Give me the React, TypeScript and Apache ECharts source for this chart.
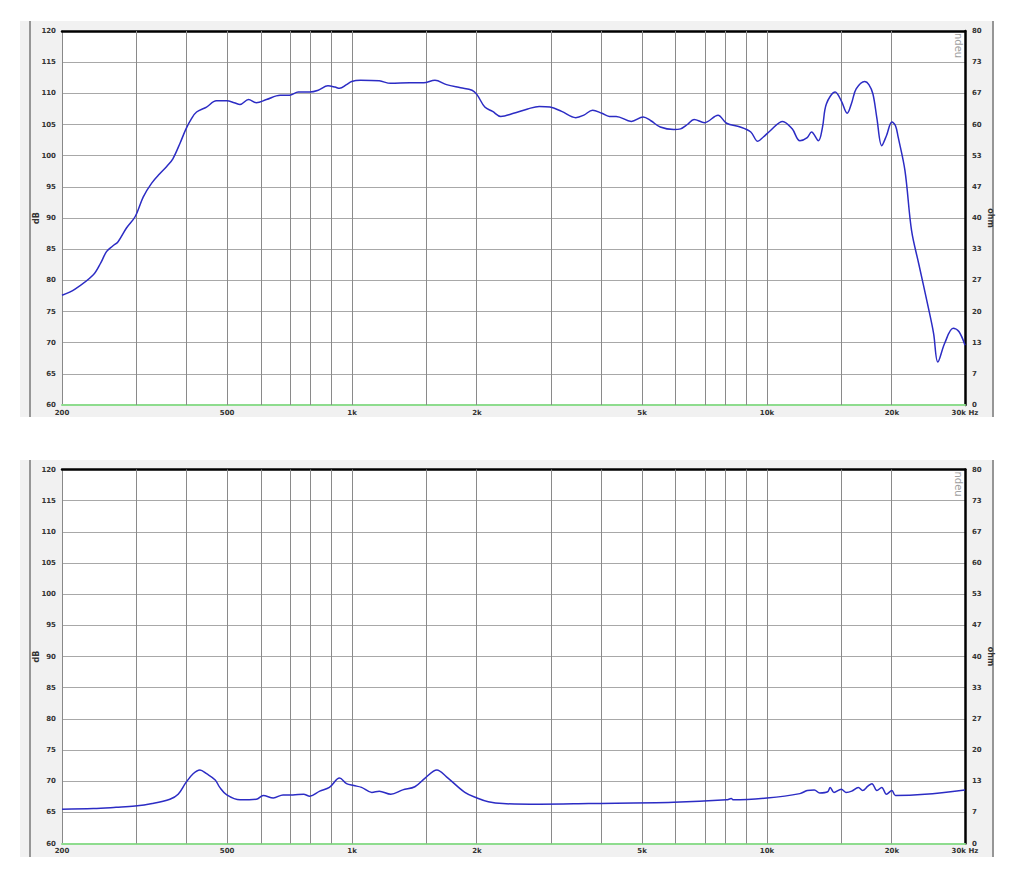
import React, { useEffect, useRef } from "react";
import * as echarts from "echarts";

// Top chart: frequency response (Hz, dB)
const freqTop = [200, 215, 238, 248, 256, 265, 273, 286, 300, 314, 329, 344, 358, 370, 385, 398, 410, 422, 446, 471, 499, 520, 537, 563, 588, 622, 671, 707, 742, 791, 829, 875, 910, 933, 970, 998, 1047, 1163, 1239, 1378, 1488, 1584, 1689, 1826, 1946, 2000, 2089, 2181, 2282, 2450, 2650, 2825, 3000, 3200, 3460, 3620, 3800, 4000, 4170, 4330, 4710, 5030, 5250, 5530, 5960, 6190, 6430, 6670, 7070, 7620, 7990, 8620, 9140, 9500, 9800, 10180, 10910, 11500, 12000, 12500, 12800, 13300, 13600, 13900, 14600, 15100, 15600, 16000, 16400, 17200, 17600, 18000, 18400, 18900, 19400, 20000, 20400, 20700, 21500, 22300, 23200, 24500, 25200, 25800, 26800, 28100, 29000, 30000];
const dbTop = [77.6, 78.6, 80.9, 82.8, 84.6, 85.5, 86.2, 88.4, 90.2, 93.4, 95.6, 97.1, 98.3, 99.5, 102.0, 104.3, 105.9, 107.0, 107.8, 108.8, 108.8, 108.5, 108.2, 109.0, 108.5, 109.0, 109.7, 109.7, 110.2, 110.2, 110.5, 111.2, 111.0, 110.8, 111.4, 111.9, 112.1, 112.0, 111.6, 111.7, 111.7, 112.1, 111.4, 110.9, 110.5, 109.8, 107.8, 107.1, 106.3, 106.8, 107.5, 107.9, 107.8, 107.1, 106.1, 106.5, 107.3, 106.8, 106.3, 106.3, 105.5, 106.2, 105.6, 104.6, 104.2, 104.3, 105.0, 105.8, 105.3, 106.5, 105.2, 104.6, 103.8, 102.3, 103.0, 104.0, 105.5, 104.3, 102.4, 102.9, 103.8, 102.4, 104.5, 108.3, 110.2, 108.8, 106.8, 108.5, 110.7, 111.9, 111.4, 109.9, 106.0, 101.6, 103.2, 105.4, 104.8, 103.0, 97.6, 88.0, 82.7, 75.5, 71.5, 66.9, 69.9, 72.3, 71.8, 69.6];

// Bottom chart
const freqBottom = [200, 238, 270, 300, 330, 364, 381, 398, 414, 430, 446, 468, 480, 499, 537, 588, 611, 646, 682, 720, 764, 791, 836, 882, 933, 970, 1010, 1054, 1116, 1163, 1240, 1325, 1417, 1500, 1601, 1689, 1870, 2000, 2130, 2310, 2825, 3720, 5960, 7990, 8200, 8300, 10000, 12000, 12500, 13000, 13400, 14000, 14200, 14500, 15100, 15500, 16000, 16600, 17000, 17500, 17900, 18400, 18900, 19400, 20000, 20400, 24000, 30000];
const dbBottom = [65.5, 65.6, 65.8, 66.0, 66.4, 67.1, 67.9, 69.8, 71.2, 71.8, 71.2, 70.2, 69.0, 67.8, 67.0, 67.1, 67.7, 67.3, 67.8, 67.8, 67.9, 67.6, 68.4, 69.0, 70.5, 69.6, 69.3, 69.0, 68.2, 68.4, 67.9, 68.6, 69.1, 70.5, 71.8, 70.7, 68.2, 67.3, 66.7, 66.4, 66.3, 66.4, 66.6, 67.0, 67.2, 67.0, 67.3, 68.0, 68.5, 68.6, 68.1, 68.3, 69.0, 68.2, 68.7, 68.2, 68.4, 69.0, 68.5, 69.2, 69.6, 68.5, 69.0, 67.9, 68.5, 67.7, 67.9, 68.6];

const gridFreqs = [300, 400, 500, 600, 700, 800, 900, 1000, 1500, 2000, 3000, 4000, 5000, 6000, 7000, 8000, 9000, 10000, 15000, 20000];
const xLabelFreqs = [200, 500, 1000, 2000, 5000, 10000, 20000, 30000];
const xLabelTexts = ["200", "500", "1k", "2k", "5k", "10k", "20k", "30k Hz"];
const ohmLabels = ["0", "7", "13", "20", "27", "33", "40", "47", "53", "60", "67", "73", "80"];

const FMIN = 200;
const FMAX = 30000;

const labelFont = {
  fontSize: 7,
  fontWeight: "bold" as const,
  color: "#333",
  fontFamily: "DejaVu Sans",
};

export default function App() {
  const ref = useRef<HTMLDivElement>(null);

  useEffect(() => {
    document.body.style.margin = "0";
    if (!ref.current) return;
    const chart = echarts.init(ref.current, undefined, { renderer: "svg" });

    const grids = [
      { left: 62, top: 31, width: 903, height: 374 },
      { left: 62, top: 469.5, width: 903, height: 374 },
    ];

    const xAxes: any[] = [];
    const yAxes: any[] = [];
    const series: any[] = [];

    const datasets = [
      { f: freqTop, d: dbTop },
      { f: freqBottom, d: dbBottom },
    ];

    grids.forEach((_, gi) => {
      xAxes.push({
        gridIndex: gi,
        type: "value",
        position: "bottom",
        min: Math.log10(FMIN),
        max: Math.log10(FMAX),
        axisLine: { show: true, lineStyle: { color: "#8edc8e", width: 2 } },
        axisTick: { show: false },
        splitLine: { show: false },
        axisLabel: {
          ...labelFont,
          margin: 4,
          customValues: xLabelFreqs.map((f) => Math.log10(f)),
          formatter: (v: number) => {
            const f = Math.round(Math.pow(10, v));
            const i = xLabelFreqs.indexOf(f);
            return i >= 0 ? xLabelTexts[i] : "";
          },
        },
      });
      xAxes.push({
        gridIndex: gi,
        type: "value",
        position: "top",
        min: Math.log10(FMIN),
        max: Math.log10(FMAX),
        axisLine: { show: true, lineStyle: { color: "#000", width: 2.5 } },
        axisTick: { show: false },
        axisLabel: { show: false },
        splitLine: { show: false },
      });
      yAxes.push({
        gridIndex: gi,
        type: "value",
        position: "left",
        min: 60,
        max: 120,
        interval: 5,
        name: "dB",
        nameLocation: "middle",
        nameGap: 22,
        nameMoveOverlap: false,
        nameRotate: 90,
        nameTextStyle: { ...labelFont, fontSize: 8 },
        axisLine: { show: true, lineStyle: { color: "#888", width: 1 } },
        axisTick: { show: false },
        axisLabel: { ...labelFont, margin: 6 },
        splitLine: { show: true, lineStyle: { color: "#a8a8a8", width: 1 } },
      });
      yAxes.push({
        gridIndex: gi,
        type: "value",
        position: "right",
        min: 0,
        max: 80,
        interval: 80 / 12,
        name: "ohm",
        nameLocation: "middle",
        nameGap: 21,
        nameMoveOverlap: false,
        nameRotate: -90,
        nameTextStyle: { ...labelFont, fontSize: 8 },
        axisLine: { show: true, lineStyle: { color: "#000", width: 2.5 } },
        axisTick: { show: false },
        axisLabel: {
          ...labelFont,
          margin: 7,
          formatter: (v: number) => ohmLabels[Math.round(v / (80 / 12))] ?? "",
        },
        splitLine: { show: false },
      });

      series.push({
        type: "line",
        xAxisIndex: gi * 2,
        yAxisIndex: gi * 2,
        data: [],
        z: 1,
        silent: true,
        markLine: {
          silent: true,
          symbol: ["none", "none"],
          label: { show: false },
          animation: false,
          lineStyle: { color: "#8a8a8a", width: 1, type: "solid" },
          data: gridFreqs.map((f) => ({ xAxis: Math.log10(f) })),
        },
      });
      const ds = datasets[gi];
      series.push({
        type: "line",
        xAxisIndex: gi * 2,
        yAxisIndex: gi * 2,
        data: ds.f.map((f, i) => [Math.log10(f), ds.d[i]]),
        showSymbol: false,
        smooth: 0.35,
        z: 5,
        lineStyle: { color: "#2c2cc4", width: 1.5 },
      });
    });

    const graphics: any[] = [];
    const panels = [
      { y: 21, h: 396 },
      { y: 460, h: 397 },
    ];
    panels.forEach((p, i) => {
      graphics.push({
        type: "rect",
        z: -10,
        shape: { x: 20, y: p.y, width: 974, height: p.h },
        style: { fill: "#f1f1f1" },
      });
      graphics.push({
        type: "line",
        z: -9,
        shape: { x1: 30, y1: p.y, x2: 30, y2: p.y + p.h },
        style: { stroke: "#777", lineWidth: 1.5 },
      });
      graphics.push({
        type: "line",
        z: -9,
        shape: { x1: 993, y1: p.y, x2: 993, y2: p.y + p.h },
        style: { stroke: "#777", lineWidth: 1.5 },
      });
      graphics.push({
        type: "text",
        z: 20,
        x: 963,
        y: grids[i].top + 2,
        rotation: -Math.PI / 2,
        style: {
          text: "ndeu",
          fill: "#a0a0a0",
          fontSize: 10,
          fontFamily: "DejaVu Sans",
          textAlign: "left",
          textVerticalAlign: "top",
        },
      });
    });

    chart.setOption({
      animation: false,
      backgroundColor: "#fff",
      grid: grids.map((g) => ({ ...g, show: true, backgroundColor: "#fff", borderWidth: 0 })),
      xAxis: xAxes,
      yAxis: yAxes,
      series,
      graphic: graphics,
    });

    return () => chart.dispose();
  }, []);

  return <div ref={ref} style={{ width: 1024, height: 878 }} />;
}
